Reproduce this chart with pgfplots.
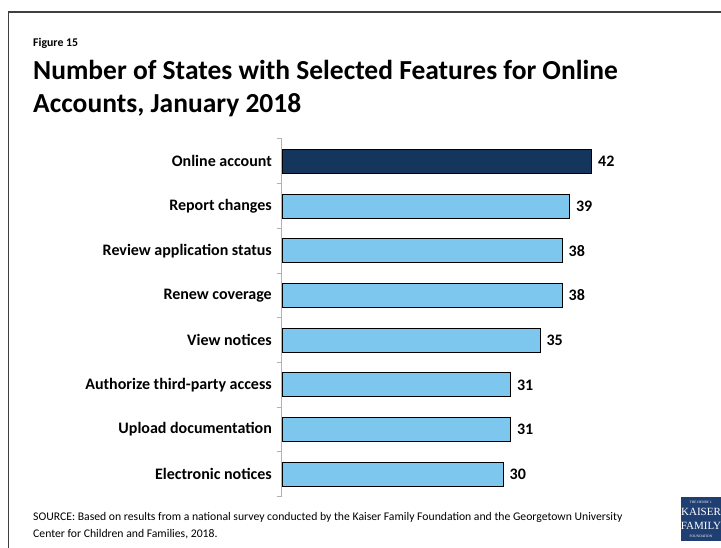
\documentclass[border=0pt]{standalone}
\usepackage{pgfplots}
\pgfplotsset{compat=1.18}
\usepackage{fontspec}
\setmainfont{Carlito}
\newfontfamily\logofont{Liberation Serif}
\definecolor{navy}{HTML}{14365D}
\definecolor{lblue}{HTML}{7DC6EE}
\definecolor{logoblue}{HTML}{1F3F73}
\begin{document}
\begin{tikzpicture}[x=1pt,y=1pt]
\useasboundingbox (0,0) rectangle (721,548);
\draw[line width=1.5pt, color=black!75] (8.5,-5) -- (8.5,536) -- (730,536);
\node[anchor=base west, inner sep=0pt, font=\fontsize{11.8}{14}\selectfont\bfseries] at (33,548-47) {Figure 15};
\node[anchor=base west, inner sep=0pt, font=\fontsize{27.5}{30}\selectfont\bfseries] at (33,548-80) {Number of States with Selected Features for Online};
\node[anchor=base west, inner sep=0pt, font=\fontsize{27.5}{30}\selectfont\bfseries] at (33,548-113) {Accounts, January 2018};
\begin{axis}[
  at={(282pt,409pt)}, anchor=north west,
  scale only axis, width=368.75pt, height=357.6pt,
  xmin=0, xmax=50, ymin=-0.5, ymax=7.5, y dir=reverse,
  axis x line=none, axis y line*=left,
  y axis line style={draw=black!30, line width=1pt},
  ytick={0,...,7},
  yticklabels={Online account,Report changes,Review application status,Renew coverage,View notices,Authorize third-party access,Upload documentation,Electronic notices},
  major tick length=0pt,
  minor ytick={-0.5,0.5,...,7.5},
  minor tick length=5pt,
  tick align=outside,
  minor tick style={draw=black!30, line width=1pt},
  yticklabel style={font=\fontsize{16}{18}\selectfont\bfseries, inner sep=0pt, xshift=-10pt},
  /pgf/number format/assume math mode=true,
  xbar, bar width=24pt,
  nodes near coords,
  nodes near coords style={font=\fontsize{16}{18}\selectfont\bfseries, anchor=west, inner sep=0pt, xshift=6pt},
  clip=false,
]
\addplot[fill=navy, draw=black, line width=0.8pt, bar shift=0pt] coordinates {(42,0)};
\addplot[fill=lblue, draw=black, line width=0.8pt, bar shift=0pt] coordinates {(39,1) (38,2) (38,3) (35,4) (31,5) (31,6) (30,7)};
\end{axis}
\node[anchor=base west, inner sep=0pt, font=\fontsize{11.7}{13}\selectfont] at (33,548-521) {SOURCE: Based on results from a national survey conducted by the Kaiser Family Foundation and the Georgetown University};
\node[anchor=base west, inner sep=0pt, font=\fontsize{11.7}{13}\selectfont] at (33,548-538) {Center for Children and Families, 2018.};
\fill[logoblue] (681,548-541) rectangle (721,548-497);
\node[text=white, inner sep=0pt, font=\logofont\fontsize{3.5}{4}\selectfont] at (701,548-502) {THE HENRY J.};
\node[text=white, inner sep=0pt, font=\logofont\fontsize{11}{11}\selectfont] at (701,548-512) {KAISER};
\node[text=white, inner sep=0pt, font=\logofont\fontsize{11}{11}\selectfont] at (701,548-526) {FAMILY};
\node[text=white, inner sep=0pt, font=\logofont\fontsize{3.5}{4}\selectfont] at (701,548-536) {FOUNDATION};
\end{tikzpicture}
\end{document}
